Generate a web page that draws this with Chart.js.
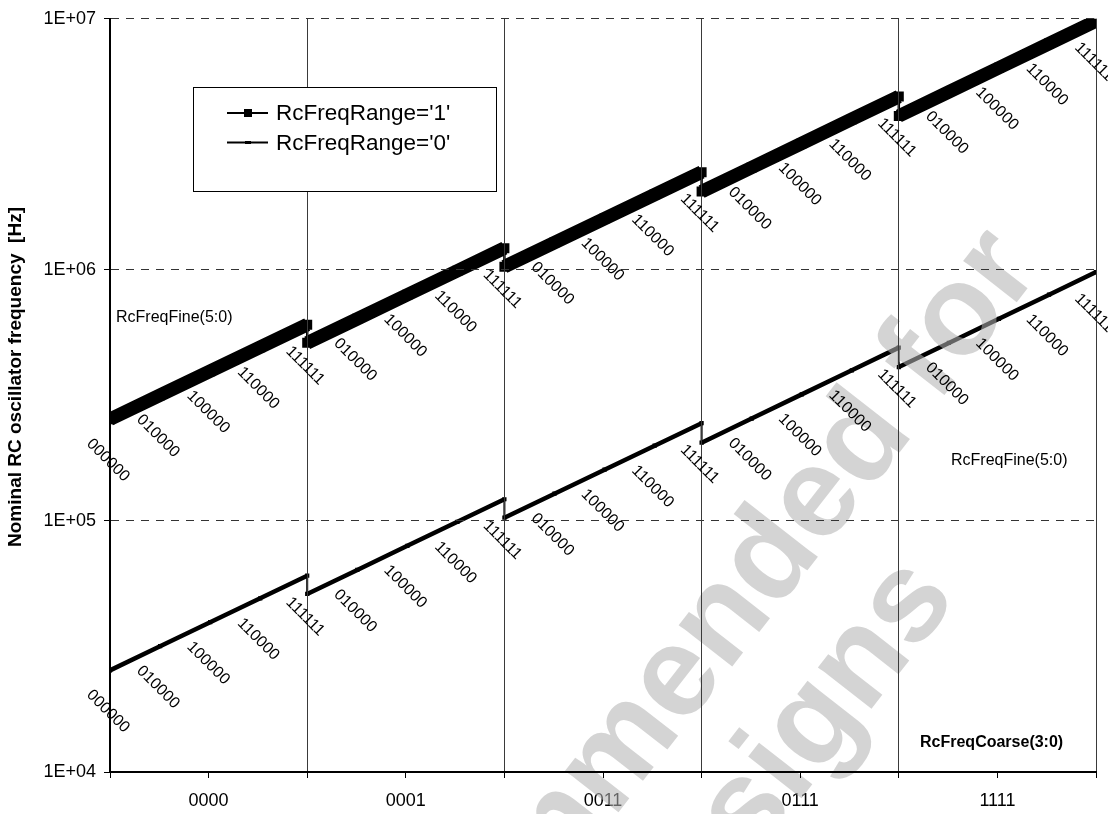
<!DOCTYPE html>
<html>
<head>
<meta charset="utf-8">
<script src="https://cdn.jsdelivr.net/npm/chart.js@4.4.1/dist/chart.umd.min.js"></script>
<style>
  html, body { margin: 0; padding: 0; background: #ffffff; }
  #wrap { width: 1108px; height: 814px; position: relative; }
</style>
</head>
<body>
<div id="wrap"><canvas id="c" width="1108" height="814"></canvas></div>
<script>
// RcFreqCoarse(3:0) settings along the x axis
const coarseLabels = ['0000', '0001', '0011', '0111', '1111'];
// RcFreqFine(5:0) codes that are labelled inside each coarse step
const fineCodes = ['000000', '010000', '100000', '110000', '111111'];
const fineSteps = [0, 16, 32, 48, 63];
const fineMax = 63;

// Nominal frequency [Hz] per coarse step, at the labelled fine codes
const range1Hz = [
  [254000, 317000, 395000, 492000, 605000],
  [512000, 638000, 796000, 992000, 1220000],
  [1030000, 1284000, 1600000, 1994000, 2450000],
  [2050000, 2558000, 3192000, 3982000, 4900000],
  [4100000, 5116000, 6383000, 7965000, 9800000]
];
const range0Hz = [
  [25400, 31700, 39500, 49200, 60500],
  [51200, 63800, 79600, 99200, 122000],
  [103000, 128400, 160000, 199400, 245000],
  [205000, 255800, 319200, 398200, 490000],
  [410000, 511600, 638300, 796500, 980000]
];

const yTickValues = [10000, 100000, 1000000, 10000000];
const yTickLabels = ['1E+04', '1E+05', '1E+06', '1E+07'];
const seriesNames = ["RcFreqRange='1'", "RcFreqRange='0'"];

const FONT = "'Liberation Sans', Arial, Helvetica, sans-serif";

// one continuous polyline per range; each coarse step starts where the previous one ends
function buildPoints(table) {
  const pts = [];
  table.forEach((row, s) => {
    row.forEach((v, i) => {
      pts.push({ x: s + fineSteps[i] / fineMax, y: v, code: fineCodes[i], showCode: s === 0 || i > 0 });
    });
  });
  return pts;
}

const sameX = ctx => ctx.p0.parsed.x === ctx.p1.parsed.x;

const overlay = {
  id: 'overlay',
  afterDatasetsDraw(chart) {
    const ctx = chart.ctx;
    const area = chart.chartArea;

    // watermark, laid over the curves
    ctx.save();
    ctx.fillStyle = 'rgba(178,178,178,0.56)';
    ctx.font = 'bold 128px ' + FONT;
    ctx.textAlign = 'right';
    ctx.textBaseline = 'alphabetic';
    const ang = -52 * Math.PI / 180;
    ctx.save();
    ctx.translate(1042, 270);
    ctx.rotate(ang);
    ctx.fillText('Not recommended for', 0, 0);
    ctx.restore();
    ctx.save();
    ctx.translate(958, 598);
    ctx.rotate(ang);
    ctx.fillText('new designs', 0, 0);
    ctx.restore();
    ctx.restore();

    // grid and axis lines stay crisp above the watermark
    const xs = chart.scales.x, ys = chart.scales.y;
    ys.drawGrid(area);
    xs.drawGrid(area);
    xs.drawBorder();
    ys.drawBorder();

    // fine-code labels below the points
    ctx.save();
    ctx.fillStyle = '#000';
    ctx.font = '16px ' + FONT;
    ctx.textAlign = 'center';
    ctx.textBaseline = 'middle';
    chart.data.datasets.forEach((ds, di) => {
      const meta = chart.getDatasetMeta(di);
      meta.data.forEach((el, i) => {
        const p = ds.data[i];
        if (!p.showCode) return;
        ctx.save();
        ctx.translate(el.x - 2, el.y + 41);
        ctx.rotate(Math.PI / 4);
        ctx.fillText(p.code, 0, 0);
        ctx.restore();
      });
    });
    ctx.restore();
  },
  afterDraw(chart) {
    const ctx = chart.ctx;
    ctx.save();
    // free text
    ctx.fillStyle = '#000';
    ctx.textBaseline = 'middle';
    ctx.textAlign = 'left';
    ctx.font = '16px ' + FONT;
    ctx.fillText('RcFreqFine(5:0)', 116, 318);
    ctx.fillText('RcFreqFine(5:0)', 951, 461);
    ctx.font = 'bold 16px ' + FONT;
    ctx.fillText('RcFreqCoarse(3:0)', 920, 743);

    // y axis title
    ctx.save();
    ctx.translate(16, 377);
    ctx.rotate(-Math.PI / 2);
    ctx.textAlign = 'center';
    ctx.font = 'bold 19px ' + FONT;
    ctx.fillText('Nominal RC oscillator frequency  [Hz]', 0, 0);
    ctx.restore();

    // legend box
    const bx = 193.5, by = 87.5, bw = 303, bh = 104;
    ctx.fillStyle = '#fff';
    ctx.fillRect(bx, by, bw, bh);
    ctx.strokeStyle = '#000';
    ctx.lineWidth = 1;
    ctx.strokeRect(bx, by, bw, bh);
    const rows = [
      { y: 113, mw: 8, mh: 8 },
      { y: 142.5, mw: 6, mh: 3 }
    ];
    rows.forEach((r, k) => {
      ctx.strokeStyle = '#000';
      ctx.lineWidth = 2;
      ctx.beginPath();
      ctx.moveTo(227, r.y);
      ctx.lineTo(268, r.y);
      ctx.stroke();
      ctx.fillStyle = '#000';
      ctx.fillRect(248 - r.mw / 2, r.y - r.mh / 2, r.mw, r.mh);
      ctx.font = '22.5px ' + FONT;
      ctx.textAlign = 'left';
      ctx.textBaseline = 'middle';
      ctx.fillText(seriesNames[k], 276, r.y + 1);
    });
    ctx.restore();
  }
};

new Chart(document.getElementById('c'), {
  type: 'line',
  data: {
    datasets: [
      {
        label: seriesNames[0],
        data: buildPoints(range1Hz),
        borderColor: '#000',
        backgroundColor: '#000',
        borderWidth: 13.5,
        borderCapStyle: 'butt',
        segment: { borderWidth: ctx => sameX(ctx) ? 2.5 : 13.5 },
        pointStyle: 'rect',
        pointRadius: 7.07,
        pointBorderWidth: 0,
        pointBackgroundColor: '#000',
        tension: 0
      },
      {
        label: seriesNames[1],
        data: buildPoints(range0Hz),
        borderColor: '#000',
        backgroundColor: '#000',
        borderWidth: 4.5,
        borderCapStyle: 'butt',
        segment: { borderWidth: ctx => sameX(ctx) ? 2 : 4.5 },
        pointStyle: 'rect',
        pointRadius: 3,
        pointBorderWidth: 0,
        pointBackgroundColor: '#000',
        tension: 0
      }
    ]
  },
  options: {
    responsive: false,
    animation: false,
    devicePixelRatio: 1,
    layout: { padding: { top: 15, right: 12, left: 0, bottom: 0 } },
    plugins: { legend: { display: false }, tooltip: { enabled: false } },
    scales: {
      x: {
        type: 'linear',
        min: 0,
        max: coarseLabels.length,
        afterFit: s => { s.height = 42; },
        ticks: {
          stepSize: 0.5,
          autoSkip: false,
          maxRotation: 0,
          padding: 12,
          color: '#000',
          font: { family: FONT, size: 18 },
          callback: v => (Math.abs(v - Math.floor(v) - 0.5) < 1e-9 ? coarseLabels[Math.floor(v)] : '')
        },
        grid: {
          color: c => (c.tick && Number.isInteger(c.tick.value) ? '#3a3a3a' : 'rgba(0,0,0,0)'),
          lineWidth: 1,
          tickColor: '#000',
          tickLength: 6,
          tickWidth: 1
        },
        border: { display: true, color: '#000', width: 2 }
      },
      y: {
        type: 'logarithmic',
        min: yTickValues[0],
        max: yTickValues[yTickValues.length - 1],
        afterFit: s => { s.width = 110; },
        afterBuildTicks: s => { s.ticks = yTickValues.map(v => ({ value: v })); },
        ticks: {
          padding: 8,
          color: '#000',
          font: { family: FONT, size: 18 },
          callback: v => yTickLabels[yTickValues.indexOf(v)]
        },
        grid: {
          color: '#333',
          lineWidth: 1,
          tickColor: '#000',
          tickLength: 6,
          tickBorderDash: []
        },
        border: { display: true, color: '#000', width: 2, dash: [8, 7] }
      }
    }
  },
  plugins: [overlay]
});
</script>
</body>
</html>
